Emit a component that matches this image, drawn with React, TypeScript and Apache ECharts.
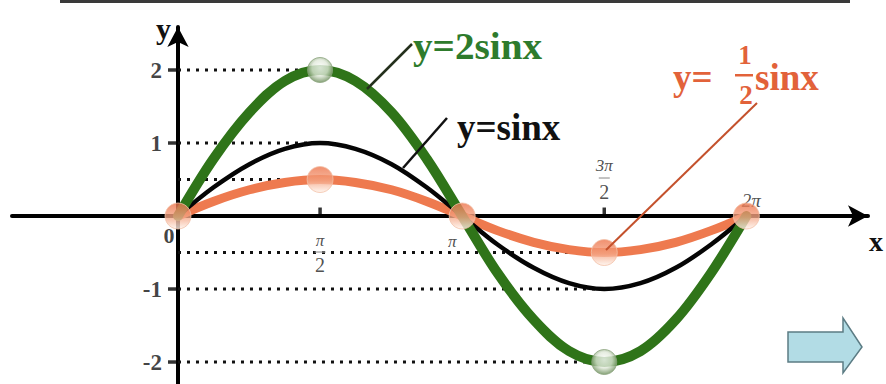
import React, { useEffect, useRef } from "react";
import * as echarts from "echarts";

// Sample positions along x (radians, steps of π/8 from 0 to 2π)
const xs = [0, 0.39, 0.79, 1.18, 1.57, 1.96, 2.36, 2.75, 3.14, 3.53, 3.93, 4.32, 4.71, 5.11, 5.5, 5.89, 6.28];
// y = sinx
const sinY = [0, 0.39, 0.71, 0.92, 1, 0.92, 0.71, 0.39, 0, -0.39, -0.71, -0.92, -1, -0.92, -0.71, -0.39, 0];
// y = 2sinx
const twoSinY = [0, 0.78, 1.42, 1.85, 2, 1.85, 1.42, 0.78, 0, -0.78, -1.42, -1.85, -2, -1.85, -1.42, -0.78, 0];
// y = 1/2 sinx
const halfSinY = [0, 0.2, 0.36, 0.46, 0.5, 0.46, 0.36, 0.2, 0, -0.2, -0.36, -0.46, -0.5, -0.46, -0.36, -0.2, 0];

// y-axis tick values and their labels
const yTicks = [2, 1, -1, -2];
const yTickLabels = ["2", "1", "-1", "-2"];
// dotted guide lines (level, x where the guide ends)
const guideLevels = [2, 1, 0.5, -0.5, -1, -2];
const guideEnds = [1.57, 1.57, 1.57, 4.71, 4.71, 4.71];
// x-axis ticks drawn as small stubs above the axis
const xTicks = [1.57, 4.71];

const SERIF = '"Liberation Serif", "Times New Roman", serif';
const GREEN = "#2f7419";
const ORANGE = "#ee7a4f";
const LABEL_ORANGE = "#e2623a";

const pairs = (ys: number[]) => xs.map((x, i) => [x, ys[i]]);

export default function App() {
  const ref = useRef<HTMLDivElement>(null);

  useEffect(() => {
    if (!ref.current) return;
    const chart = echarts.init(ref.current, null, { renderer: "svg" });

    const orangeMarker = {
      type: "linear",
      x: 0, y: 0, x2: 0, y2: 1,
      colorStops: [
        { offset: 0, color: "#ed744b" },
        { offset: 0.55, color: "#f4a686" },
        { offset: 1, color: "#fff4ec" },
      ],
    };
    const greenMarker = {
      type: "radial",
      x: 0.5, y: 0.42, r: 0.58,
      colorStops: [
        { offset: 0, color: "#ffffff" },
        { offset: 0.55, color: "#dfe8d8" },
        { offset: 1, color: "#678a55" },
      ],
    };

    const guideSeries = guideLevels.map((lv, i) => ({
      type: "line",
      data: [[0, lv], [guideEnds[i], lv]],
      symbol: "none",
      silent: true,
      z: 1,
      lineStyle: { color: "#111", width: 3, type: [3, 6] },
    }));

    const piStyle = { fontFamily: SERIF, fontStyle: "italic", fontSize: 17, color: "#222" };
    const numStyle = { fontFamily: SERIF, fontSize: 20, color: "#222" };
    const tickText = (x: number, text: string, dx: number, dy: number, style: object) => ({
      value: [x, 0],
      label: { position: "inside", offset: [dx, dy], formatter: text, ...style },
    });

    chart.setOption({
      animation: false,
      backgroundColor: "#ffffff",
      grid: { left: 12, right: 18, top: 27, bottom: 0, containLabel: false, outerBoundsMode: "none" },
      xAxis: {
        type: "value",
        min: -1.834,
        max: 7.624,
        axisLine: {
          onZero: true,
          symbol: ["none", "arrow"],
          symbolSize: [16, 20],
          lineStyle: { color: "#000", width: 4 },
        },
        axisTick: { show: false },
        axisLabel: { show: false },
        splitLine: { show: false },
      },
      yAxis: {
        type: "value",
        min: -2.301,
        max: 2.589,
        axisLine: {
          onZero: true,
          symbol: ["none", "arrow"],
          symbolSize: [16, 20],
          lineStyle: { color: "#000", width: 4 },
        },
        axisTick: { show: false },
        axisLabel: { show: false },
        splitLine: { show: false },
      },
      series: [
        ...guideSeries,
        // y tick stubs with their numbers, left of the y axis
        {
          type: "scatter",
          silent: true,
          z: 2,
          symbol: "rect",
          symbolSize: [8, 3.5],
          symbolOffset: [-6, 0],
          itemStyle: { color: "#000" },
          label: {
            show: true,
            position: "left",
            distance: 6,
            fontFamily: SERIF,
            fontWeight: "bold",
            fontSize: 23,
            color: "#111",
            formatter: (p: any) => yTickLabels[p.dataIndex],
          },
          data: yTicks.map((v) => [0, v]),
        },
        // x tick stubs above the axis
        {
          type: "scatter",
          silent: true,
          z: 2,
          symbol: "rect",
          symbolSize: [3.5, 7],
          symbolOffset: [0, -5],
          itemStyle: { color: "#000" },
          data: xTicks.map((x) => [x, 0]),
        },
        // thin fraction bars of π/2 and 3π/2
        {
          type: "scatter",
          silent: true,
          z: 2,
          symbol: "rect",
          symbolSize: [11, 1.5],
          itemStyle: { color: "#9a9a9a" },
          data: [
            { value: [xTicks[0], 0], symbolOffset: [0, 36] },
            { value: [xTicks[1], 0], symbolOffset: [0, -38] },
          ],
        },
        // x tick captions
        {
          type: "scatter",
          silent: true,
          z: 2,
          symbolSize: 1,
          itemStyle: { color: "rgba(0,0,0,0)" },
          label: { show: true },
          data: [
            tickText(0, "0", -9, 19, { fontFamily: SERIF, fontWeight: "bold", fontSize: 22, color: "#111" }),
            tickText(xTicks[0], "π", 0, 24, piStyle),
            tickText(xTicks[0], "2", 0, 49, numStyle),
            tickText(3.14, "π", -10, 25, piStyle),
            tickText(xTicks[1], "3π", 0, -51, piStyle),
            tickText(xTicks[1], "2", 0, -24, numStyle),
            tickText(6.28, "2π", 5, -16, { ...piStyle, fontSize: 19 }),
          ],
        },
        {
          name: "y=1/2sinx",
          type: "line",
          smooth: 0.35,
          symbol: "none",
          z: 3,
          data: pairs(halfSinY),
          lineStyle: { color: ORANGE, width: 9, cap: "round", join: "round" },
        },
        {
          name: "y=sinx",
          type: "line",
          smooth: 0.35,
          symbol: "none",
          z: 4,
          data: pairs(sinY),
          lineStyle: { color: "#050505", width: 4.5, cap: "round" },
        },
        {
          name: "y=2sinx",
          type: "line",
          smooth: 0.35,
          symbol: "none",
          z: 5,
          data: pairs(twoSinY),
          lineStyle: { color: GREEN, width: 10, cap: "round", join: "round" },
        },
        {
          type: "scatter",
          silent: true,
          z: 6,
          symbolSize: 26,
          itemStyle: { color: orangeMarker, borderColor: "#f2c0a8", borderWidth: 1 },
          data: [0, 8, 16, 4, 12].map((i) => [xs[i], halfSinY[i]]),
        },
        {
          type: "scatter",
          silent: true,
          z: 6,
          symbolSize: 25,
          itemStyle: { color: greenMarker, borderColor: "#8aa37c", borderWidth: 1 },
          data: [4, 12].map((i) => [xs[i], twoSinY[i]]),
        },
      ],
      graphic: [
        { type: "rect", shape: { x: 60, y: 0, width: 790, height: 3 }, style: { fill: "#3a3a3a" } },
        {
          type: "polygon",
          shape: { points: [[788, 332], [843, 332], [843, 318], [862, 347], [843, 373], [843, 362], [788, 362]] },
          style: { fill: "#b2dce5", stroke: "#5c7c84", lineWidth: 1.5 },
        },
        { type: "text", x: 156, y: 28, style: { text: "y", fontFamily: SERIF, fontWeight: "bold", fontSize: 30, fill: "#111", verticalAlign: "middle" } },
        { type: "text", x: 869, y: 241, style: { text: "x", fontFamily: SERIF, fontWeight: "bold", fontSize: 28, fill: "#111", verticalAlign: "middle" } },
        { type: "line", z: 10, shape: { x1: 367, y1: 89, x2: 412, y2: 44 }, style: { stroke: "#24301c", lineWidth: 2.5 } },
        { type: "text", z: 10, x: 413, y: 46, scaleX: 1.06, style: { text: "y=2sinx", fontFamily: SERIF, fontWeight: "bold", fontSize: 37, fill: "#2e7b2c", verticalAlign: "middle" } },
        { type: "line", z: 10, shape: { x1: 403, y1: 168, x2: 447, y2: 118 }, style: { stroke: "#111", lineWidth: 2.5 } },
        { type: "text", z: 10, x: 457, y: 127, style: { text: "y=sinx", fontFamily: SERIF, fontWeight: "bold", fontSize: 37, fill: "#111", verticalAlign: "middle" } },
        { type: "line", z: 10, shape: { x1: 606, y1: 250, x2: 757, y2: 103 }, style: { stroke: "#c4512c", lineWidth: 2 } },
        { type: "text", z: 10, x: 673, y: 77, style: { text: "y=", fontFamily: SERIF, fontWeight: "bold", fontSize: 37, fill: LABEL_ORANGE, verticalAlign: "middle" } },
        { type: "text", z: 10, x: 745, y: 55, style: { text: "1", fontFamily: SERIF, fontWeight: "bold", fontSize: 27, fill: LABEL_ORANGE, align: "center", verticalAlign: "middle" } },
        { type: "rect", z: 10, shape: { x: 735, y: 74, width: 18, height: 2.5 }, style: { fill: LABEL_ORANGE } },
        { type: "text", z: 10, x: 746, y: 95, style: { text: "2", fontFamily: SERIF, fontWeight: "bold", fontSize: 27, fill: LABEL_ORANGE, align: "center", verticalAlign: "middle" } },
        { type: "text", z: 10, x: 755, y: 77, style: { text: "sinx", fontFamily: SERIF, fontWeight: "bold", fontSize: 37, fill: LABEL_ORANGE, verticalAlign: "middle" } },
      ],
    });

    return () => chart.dispose();
  }, []);

  return (
    <div
      ref={ref}
      style={{ position: "fixed", left: 0, top: 0, width: 886, height: 384, background: "#fff" }}
    />
  );
}
